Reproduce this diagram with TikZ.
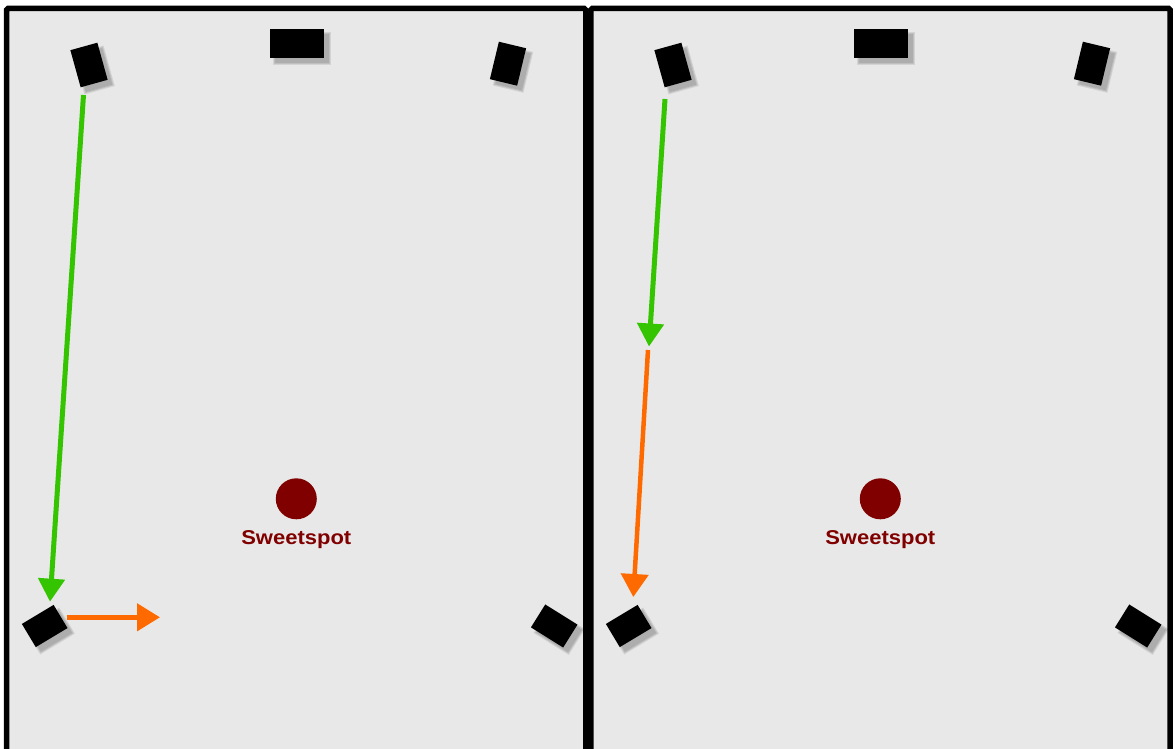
\documentclass[tikz,border=0pt]{standalone}
\usepackage{fontspec}
\setmainfont{Liberation Sans}
\usetikzlibrary{arrows.meta}
\definecolor{panelgray}{RGB}{232,232,232}
\definecolor{spotred}{RGB}{128,0,0}
\definecolor{arrgreen}{RGB}{52,196,0}
\definecolor{arrorange}{RGB}{255,106,0}
\tikzset{
  panel/.style={draw=black, line width=5.5pt, fill=panelgray, rounded corners=1.5pt},
  spk/.style={fill=black, draw=none, inner sep=0pt, minimum width=28pt, minimum height=38.5pt},
  spkc/.style={spk, minimum width=54pt, minimum height=29pt},
  shad/.style={fill=black, opacity=0.09, draw=none, inner sep=0pt},
  spot/.style={circle, fill=spotred, draw=none, inner sep=0pt, minimum size=41pt},
  spotlabel/.style={text=spotred, font=\fontsize{20}{24}\selectfont\bfseries, inner sep=0pt, anchor=base},
  garrow/.style={draw=arrgreen, line width=5pt, -{Triangle[length=23pt,width=26pt]}},
  oarrow/.style={draw=arrorange, line width=4.5pt, -{Triangle[length=23pt,width=27pt]}}
}
\begin{document}
\begin{tikzpicture}[x=1pt,y=-1pt]
\useasboundingbox (0,0) rectangle (1175,749);
\clip (0,0) rectangle (1175,749);
% panels
\draw[panel] (6.5,8.5) rectangle (585.8,790);
\draw[panel] (590.8,8.5) rectangle (1170.2,790);
\foreach \p/\dx in {L/0,R/584}{
  % soft shadows (three layers)
  \foreach \k/\g in {a/3.5,b/1.5,c/-0.5}{
    \node[shad, minimum width=28pt+\g pt, minimum height=38.5pt+\g pt, rotate=15.5] (shTL\p\k) at ({\dx+94},70) {};
    \node[shad, minimum width=54pt+\g pt, minimum height=29pt+\g pt] (shTC\p\k) at ({\dx+302},48.5) {};
    \node[shad, minimum width=28pt+\g pt, minimum height=38.5pt+\g pt, rotate=-13.5] (shTR\p\k) at ({\dx+513},68.7) {};
    \node[shad, minimum width=27pt+\g pt, minimum height=37pt+\g pt, rotate=-59] (shBL\p\k) at ({\dx+49.7},631) {};
    \node[shad, minimum width=27pt+\g pt, minimum height=38pt+\g pt, rotate=58] (shBR\p\k) at ({\dx+559.2},631) {};
  }
  % speakers
  \node[spk, rotate=15.5] (TL\p) at ({\dx+89},65) {};
  \node[spkc] (TC\p) at ({\dx+297},43.5) {};
  \node[spk, rotate=-13.5] (TR\p) at ({\dx+508},63.7) {};
  \node[spk, minimum width=27pt, minimum height=37pt, rotate=-59] (BL\p) at ({\dx+44.7},626) {};
  \node[spk, minimum width=27pt, minimum height=38pt, rotate=58] (BR\p) at ({\dx+554.2},626) {};
  % sweetspot
  \node[spot] (ss\p) at ({\dx+296.3},498.8) {};
  \node[spotlabel] (sslab\p) at ({\dx+296.3},544.5) {\scalebox{1.1}[1]{Sweetspot}};
}
% left panel arrows
\coordinate (gLs) at (83.5,95);
\coordinate (gLe) at (50,601.7);
\coordinate (oLs) at (66.7,617.3);
\coordinate (oLe) at (160,617.3);
\draw[garrow] (gLs) -- (gLe);
\draw[oarrow] (oLs) -- (oLe);
% right panel arrows
\coordinate (gRs) at (665,99);
\coordinate (gRe) at (649,346.5);
\coordinate (oRs) at (648,350);
\coordinate (oRe) at (633.3,597);
\draw[garrow] (gRs) -- (gRe);
\draw[oarrow] (oRs) -- (oRe);
\end{tikzpicture}
\end{document}
